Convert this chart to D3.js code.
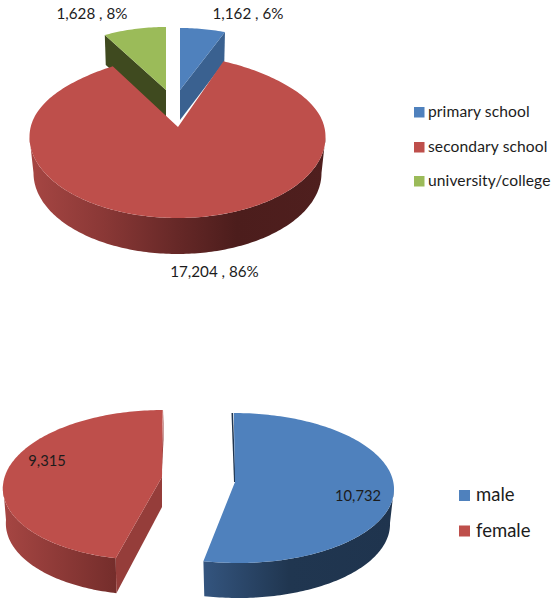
<!DOCTYPE html>
<html>
<head>
<meta charset="utf-8">
<script src="https://cdn.jsdelivr.net/npm/d3@7"></script>
<style>
html,body{margin:0;padding:0;background:#fff;}
svg{display:block;}
text{font-family:Lato,"Open Sans",sans-serif;fill:#1c1c1c;}
</style>
</head>
<body>
<svg id="chart" width="553" height="599"></svg>
<script>
const schoolCategories = ["primary school", "secondary school", "university/college"];
const schoolValues = [1162, 17204, 1628];
const genderCategories = ["male", "female"];
const genderValues = [10732, 9315];

const svg = d3.select("#chart");
const defs = svg.append("defs");
const pieLayout = d3.pie().sort(null);
const fmt = d3.format(",");
const line = d3.line().x(p => p[0]).y(p => p[1]);
const RIGHT = Math.PI / 2, LEFT = Math.PI * 1.5;

// Perspective-pie geometry for one slice
function projector(g) {
  return (a, low) => {
    const rx = g.rx - (low ? g.shrink : 0);
    const c = Math.cos(a);
    const dy = -g.ry * c;
    const narrowing = c > 0 ? 1 - (g.taper || 0) * c * c * c : 1;
    return [g.cx + rx * narrowing * Math.sin(a) + (g.skew || 0) * dy, g.cy + dy + (low ? g.depth : 0)];
  };
}
function arcPoints(P, a0, a1, low) {
  const n = Math.max(2, Math.ceil(Math.abs(a1 - a0) / 0.02));
  return d3.range(n + 1).map(i => P(a0 + (a1 - a0) * i / n, low));
}
function gradient(id, x1, x2, stops) {
  const gr = defs.append("linearGradient").attr("id", id)
    .attr("gradientUnits", "userSpaceOnUse")
    .attr("x1", x1).attr("x2", x2).attr("y1", 0).attr("y2", 0);
  stops.forEach(s => gr.append("stop").attr("offset", s[0]).attr("stop-color", s[1]));
}
function topFace(d, g, fill) {
  const P = projector(g);
  svg.append("path").attr("fill", fill)
    .attr("d", line([[g.ax, g.ay], ...arcPoints(P, d.startAngle, d.endAngle, false)]) + "Z");
}
function sideFace(d, g, fill) {
  const P = projector(g);
  const a0 = Math.max(d.startAngle, RIGHT), a1 = Math.min(d.endAngle, LEFT);
  svg.append("path").attr("fill", fill)
    .attr("d", line([...arcPoints(P, a0, a1, false), ...arcPoints(P, a1, a0, true)]) + "Z");
}
function cutFace(angle, g, fill) {
  const P = projector(g);
  svg.append("path").attr("fill", fill)
    .attr("d", line([P(angle, false), [g.ax, g.ay], [g.ax, g.ay + g.apexDepth], P(angle, true)]) + "Z");
}

/* ---------- Top chart ---------- */
const schoolArcs = pieLayout(schoolValues);
const schoolTotal = d3.sum(schoolValues);
const schoolColors = ["#4f81bd", "#be4f4b", "#9bbb59"];
const geoBlue  = {cx:180, cy:90, rx:126, ry:62, ax:180, ay:90, depth:30, shrink:2, apexDepth:30};
const geoGreen = {cx:166, cy:90, rx:125, ry:63, ax:166, ay:90, depth:30, shrink:2, apexDepth:28};
const geoRed   = {cx:177.5, cy:137, rx:148, ry:81, taper:0.16, ax:178, ay:127, depth:36, shrink:4};

gradient("schoolSide", 30, 325, [[0,"#a64643"],[0.25,"#8a3836"],[0.5,"#662827"],[0.7,"#4c1d1c"],[1,"#4f1f1e"]]);

cutFace(schoolArcs[2].startAngle, geoGreen, "#3f4a1f");
topFace(schoolArcs[2], geoGreen, schoolColors[2]);
cutFace(schoolArcs[0].endAngle, geoBlue, "#3a6190");
topFace(schoolArcs[0], geoBlue, schoolColors[0]);
sideFace(schoolArcs[1], geoRed, "url(#schoolSide)");
topFace(schoolArcs[1], geoRed, schoolColors[1]);

const schoolLabelPos = [[248, 19], [214.5, 277], [92, 19]];
schoolValues.forEach((v, i) => {
  svg.append("text").attr("x", schoolLabelPos[i][0]).attr("y", schoolLabelPos[i][1])
    .attr("text-anchor", "middle").attr("font-size", 15.2)
    .text(`${fmt(v)} , ${Math.round(v / schoolTotal * 100)}%`);
});

const schoolLegendY = [112, 147, 181];
schoolCategories.forEach((c, i) => {
  svg.append("rect").attr("x", 414).attr("y", schoolLegendY[i] - 5).attr("width", 10.5).attr("height", 10.5).attr("fill", schoolColors[i]);
  svg.append("text").attr("x", 428).attr("y", schoolLegendY[i] + 5).attr("font-size", 15.6).attr("letter-spacing", 0.1).text(c);
});

/* ---------- Bottom chart ---------- */
const genderArcs = pieLayout(genderValues);
const genderColors = ["#4f81bd", "#be4f4b"];
const geoMale   = {cx:236, cy:488, rx:158, ry:75, skew:0.03, ax:235, ay:482, depth:35, shrink:4, apexDepth:0};
const geoFemale = {cx:156, cy:485, rx:153, ry:75, skew:-0.09, ax:162, ay:477, depth:35, shrink:3, apexDepth:30};

gradient("maleSide", 203, 394, [[0,"#34557f"],[0.45,"#203650"],[1,"#1f344e"]]);
gradient("femaleSide", 3, 117, [[0,"#a64643"],[1,"#742d2b"]]);

sideFace(genderArcs[0], geoMale, "url(#maleSide)");
svg.append("path").attr("fill", "#1f344e")
  .attr("d", line([[231.5, 413], [234, 482], [235.5, 482], [233, 413]]) + "Z");
topFace(genderArcs[0], geoMale, genderColors[0]);

sideFace(genderArcs[1], geoFemale, "url(#femaleSide)");
cutFace(genderArcs[1].startAngle, geoFemale, "#953d3a");
svg.append("path").attr("fill", "#953d3a")
  .attr("d", line([[163.5, 410], [163.5, 440], [160, 507], [161, 477]]) + "Z");
topFace(genderArcs[1], geoFemale, genderColors[1]);

const genderLabelPos = [[358, 501], [47, 466]];
genderValues.forEach((v, i) => {
  svg.append("text").attr("x", genderLabelPos[i][0]).attr("y", genderLabelPos[i][1])
    .attr("text-anchor", "middle").attr("font-size", 14.7).attr("fill", "#111").text(fmt(v));
});

const genderLegendY = [495.5, 531];
genderCategories.forEach((c, i) => {
  svg.append("rect").attr("x", 459).attr("y", genderLegendY[i] - 5.5).attr("width", 11).attr("height", 11).attr("fill", genderColors[i]);
  svg.append("text").attr("x", 476).attr("y", genderLegendY[i] + 5.5).attr("font-size", 18.5).text(c);
});
</script>
</body>
</html>
